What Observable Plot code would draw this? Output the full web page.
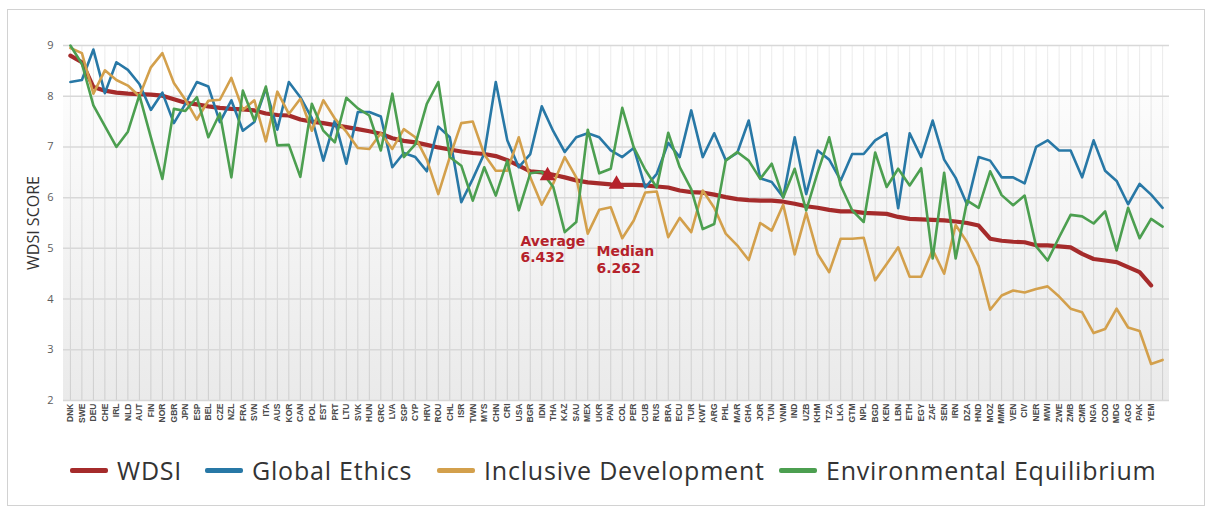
<!DOCTYPE html>
<html><head><meta charset="utf-8">
<script src="https://cdn.jsdelivr.net/npm/d3@7"></script>
<script src="https://cdn.jsdelivr.net/npm/@observablehq/plot@0.6"></script>
<style>
body{margin:0;background:#fff;width:1212px;height:509px;overflow:hidden;position:relative;font-family:"Open Sans",sans-serif;}
#frame{position:absolute;left:7px;top:9px;width:1198px;height:497px;border:1px solid #d2d2d2;box-sizing:border-box;}
#chart{position:absolute;left:0;top:0;}
#legend{position:absolute;left:0;top:452px;height:36px;width:1212px;}
.item{position:absolute;top:0;height:36px;display:flex;align-items:center;font-size:25px;letter-spacing:0.8px;color:#333;white-space:nowrap;}
.sw{width:38px;height:5px;margin-right:9px;border-radius:2px;}
</style>
</head><body>
<div id="frame"></div><div id="chart"></div><div id="legend"></div>
<script>
const countries = ["DNK","SWE","DEU","CHE","IRL","NLD","AUT","FIN","NOR","GBR","JPN","ESP","BEL","CZE","NZL","FRA","SVN","ITA","AUS","KOR","CAN","POL","EST","PRT","LTU","SVK","HUN","GRC","LVA","SGP","CYP","HRV","ROU","CHL","ISR","TWN","MYS","CHN","CRI","USA","BGR","IDN","THA","KAZ","SAU","MEX","UKR","PAN","COL","PER","CUB","RUS","BRA","ECU","TUR","KWT","ARG","PHL","MAR","GHA","JOR","TUN","VNM","IND","UZB","KHM","TZA","LKA","GTM","NPL","BGD","KEN","LBN","ETH","EGY","ZAF","SEN","IRN","DZA","HND","MOZ","MMR","VEN","CIV","NER","MWI","ZWE","ZMB","CMR","NGA","COD","MDG","AGO","PAK","YEM"];

const wdsi = [8.80,8.67,8.18,8.11,8.07,8.05,8.04,8.03,8.01,7.94, 7.87,7.84,7.80,7.77,7.75,7.74,7.72,7.66,7.63,7.62, 7.54,7.50,7.47,7.43,7.39,7.35,7.31,7.26,7.17,7.12, 7.09,7.04,6.99,6.95,6.91,6.88,6.86,6.82,6.74,6.63, 6.52,6.50,6.45,6.40,6.34,6.30,6.28,6.26,6.25,6.25, 6.24,6.22,6.20,6.14,6.11,6.10,6.06,6.01,5.97,5.95, 5.94,5.94,5.92,5.88,5.83,5.80,5.76,5.73,5.73,5.70, 5.69,5.68,5.62,5.58,5.57,5.56,5.55,5.53,5.50,5.45, 5.19,5.15,5.13,5.12,5.06,5.06,5.04,5.02,4.89,4.79, 4.76,4.73,4.63,4.53,4.27];

const globalEthics = [8.28,8.32,8.92,8.06,8.67,8.52,8.24,7.73,8.07,7.47, 7.85,8.28,8.19,7.49,7.92,7.32,7.49,8.15,7.34,8.28, 7.98,7.57,6.73,7.52,6.67,7.69,7.69,7.60,6.60,6.88, 6.80,6.52,7.40,7.19,5.91,6.37,6.87,8.28,7.13,6.60, 6.86,7.80,7.31,6.90,7.19,7.27,7.19,6.93,6.80,6.98, 6.20,6.47,7.08,6.80,7.72,6.80,7.27,6.74,6.88,7.52, 6.38,6.31,6.01,7.19,6.07,6.93,6.75,6.34,6.86,6.86, 7.13,7.27,5.79,7.27,6.80,7.52,6.75,6.39,5.86,6.80, 6.73,6.40,6.40,6.28,7.00,7.13,6.93,6.93,6.40,7.13, 6.53,6.33,5.87,6.27,6.06,5.80];

const inclusiveDev = [8.95,8.85,8.05,8.51,8.32,8.21,8.00,8.57,8.85,8.26, 7.93,7.54,7.91,7.93,8.36,7.73,7.92,7.11,8.09,7.65, 7.95,7.32,7.92,7.56,7.30,6.98,6.96,7.27,6.96,7.35, 7.19,6.75,6.07,6.80,7.47,7.50,6.85,6.53,6.53,7.19, 6.40,5.86,6.28,6.80,6.40,5.29,5.76,5.81,5.20,5.55, 6.10,6.12,5.22,5.60,5.32,6.14,5.80,5.29,5.06,4.77, 5.50,5.35,5.86,4.88,5.70,4.89,4.53,5.19,5.19,5.21, 4.37,4.69,5.02,4.44,4.44,4.97,4.50,5.46,5.12,4.65, 3.79,4.07,4.17,4.13,4.20,4.25,4.05,3.81,3.74,3.33, 3.41,3.81,3.44,3.37,2.72,2.80];

const envEquilibrium = [9.00,8.64,7.82,7.41,7.00,7.30,8.02,7.19,6.37,7.75, 7.71,7.98,7.19,7.66,6.40,8.11,7.52,8.19,7.03,7.04, 6.41,7.85,7.32,7.09,7.97,7.76,7.62,6.93,8.05,6.80, 7.05,7.85,8.28,6.80,6.63,5.94,6.60,6.04,6.73,5.75, 6.48,6.51,6.21,5.32,5.52,7.34,6.48,6.57,7.77,6.99, 6.55,6.20,7.28,6.60,6.17,5.38,5.48,6.73,6.90,6.73, 6.37,6.67,6.00,6.57,5.75,6.50,7.19,6.24,5.75,5.52, 6.89,6.21,6.57,6.24,6.58,4.80,6.49,4.80,5.94,5.80, 6.52,6.05,5.85,6.04,5.04,4.76,5.22,5.66,5.63,5.49, 5.73,4.96,5.80,5.20,5.58,5.43];

const seriesNames = ["WDSI", "Global Ethics", "Inclusive Development", "Environmental Equilibrium"];
const seriesColors = ["#a52b2b", "#2878a6", "#d3a04c", "#4c9f50"];
const seriesWidths = [4.2, 2.6, 2.6, 2.6];
const yTicks = [2, 3, 4, 5, 6, 7, 8, 9];
const yLabel = "WDSI SCORE";

// summary markers (between data points, as in the source chart)
const summary = [
  {label: "Average", value: 6.432, pos: 41.5, dx: -27, dy: 58},
  {label: "Median",  value: 6.262, pos: 47.5, dx: -20, dy: 60}
];
const annColor = "#b5222b";

const seriesData = [wdsi, globalEthics, inclusiveDev, envEquilibrium];
const nPoints = d3.max(seriesData, s => s.length);
const xDomain = [-0.6, nPoints - 1 + 0.6];
const yDomain = [d3.min(yTicks), d3.max(yTicks)];

const marks = [
  Plot.rect([0], {x1: xDomain[0], x2: xDomain[1], y1: yDomain[0], y2: yTicks[yTicks.length - 2], fill: "url(#bgGrad)"}),
  Plot.ruleX(d3.range(nPoints), {x: d => d, y1: yDomain[0], y2: yDomain[1], stroke: "url(#vGrad)", strokeWidth: 1}),
  Plot.ruleY(yTicks, {stroke: "#d8d8d8", strokeWidth: 1.5}),
  Plot.axisY(yTicks, {tickSize: 0, tickPadding: 10, tickFormat: d => String(d), fontSize: 11, fill: "#5c5c5c", fontFamily: "Open Sans", label: null}),
  Plot.axisX(d3.range(countries.length), {tickFormat: i => countries[i], tickRotate: -90, tickSize: 0, tickPadding: 3,
    fontSize: 8.5, fontWeight: "bold", fontFamily: "Liberation Sans Narrow, Liberation Sans, Arial", fill: "#4a4a4a", label: null}),
  Plot.text([yLabel], {frameAnchor: "left", textAnchor: "middle", rotate: -90, dx: -30, fontSize: 16, fill: "#333", fontFamily: "Open Sans"})
];
seriesData.forEach((arr, s) => {
  marks.push(Plot.line(arr, {x: (d, i) => i, y: d => d, stroke: seriesColors[s], strokeWidth: seriesWidths[s], strokeLinejoin: "round", strokeLinecap: "round"}));
});
marks.push(Plot.dot(summary, {x: "pos", y: "value", symbol: "triangle", r: 5.8, fill: annColor, stroke: null}));
summary.forEach(a => {
  marks.push(Plot.text([a], {x: "pos", y: "value", text: d => d.label + "\n" + d.value.toFixed(3), dx: a.dx, dy: a.dy,
    textAnchor: "start", lineAnchor: "top", lineHeight: 1.2, fontSize: 14, fontWeight: "bold", fontFamily: "DejaVu Sans", fill: annColor}));
});

const chart = Plot.plot({
  width: 1212, height: 440,
  marginLeft: 63, marginRight: 43, marginTop: 45, marginBottom: 40,
  x: {type: "linear", domain: xDomain},
  y: {domain: yDomain},
  style: {background: "transparent", overflow: "visible", fontFamily: "Open Sans"},
  marks
});

const yScale = chart.scale("y");
const yTopPx = yScale.apply(yDomain[1]), yBottomPx = yScale.apply(yDomain[0]);
const svgNS = "http://www.w3.org/2000/svg";
const defs = document.createElementNS(svgNS, "defs");
defs.innerHTML =
  `<linearGradient id="bgGrad" x1="0" y1="0" x2="0" y2="1"><stop offset="0" stop-color="#fcfcfc"/><stop offset="1" stop-color="#eaeaea"/></linearGradient>` +
  `<linearGradient id="vGrad" gradientUnits="userSpaceOnUse" x1="0" y1="${yTopPx}" x2="0" y2="${yBottomPx}"><stop offset="0" stop-color="#ececec"/><stop offset="1" stop-color="#cdcdcd"/></linearGradient>`;
chart.insertBefore(defs, chart.firstChild);
document.getElementById("chart").appendChild(chart);

// legend
const legendLefts = [70, 205, 437, 779];
const legendEl = document.getElementById("legend");
seriesNames.forEach((name, s) => {
  const item = document.createElement("div");
  item.className = "item";
  item.style.left = legendLefts[s] + "px";
  const sw = document.createElement("span");
  sw.className = "sw";
  sw.style.background = seriesColors[s];
  item.appendChild(sw);
  item.appendChild(document.createTextNode(name));
  legendEl.appendChild(item);
});
</script>
</body></html>
